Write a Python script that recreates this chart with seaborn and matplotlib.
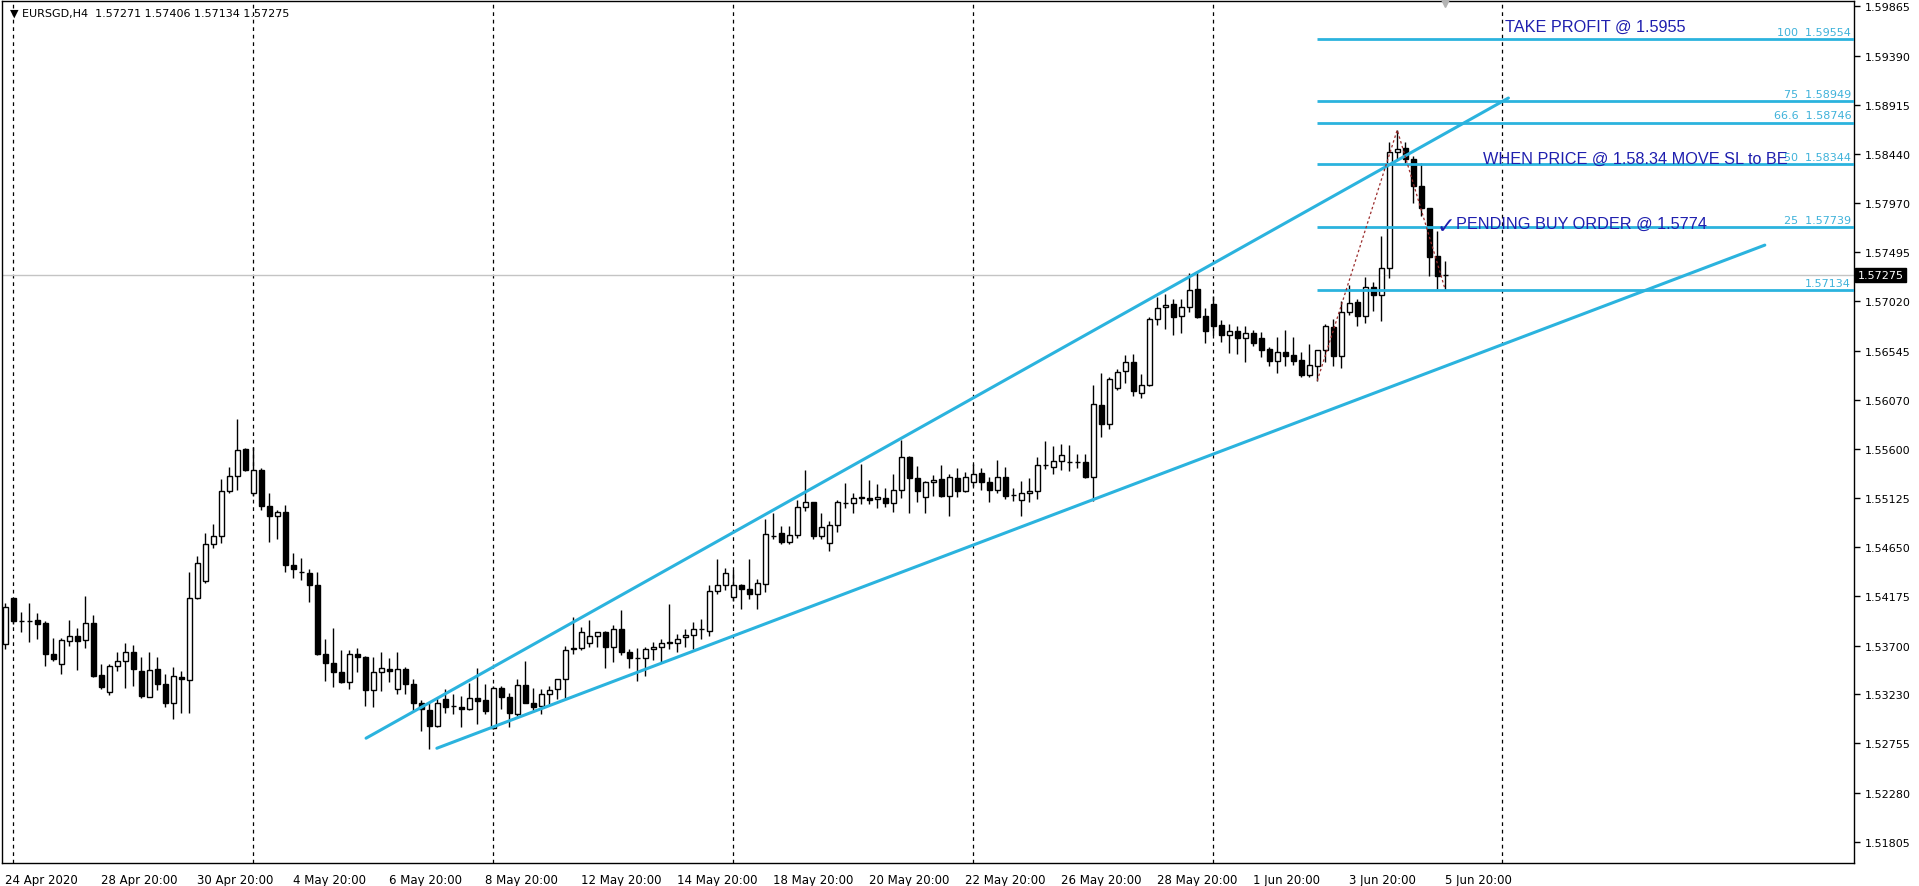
import numpy as np
import pandas as pd
import matplotlib
matplotlib.use("Agg")
import matplotlib.pyplot as plt
import matplotlib.transforms as mtransforms
import seaborn as sns

# EURSGD H4 candles, 24 Apr 2020 20:00 .. 5 Jun 2020 20:00
symbol = "EURSGD,H4"
open_ = [
    1.53719, 1.54156, 1.53938, 1.53938, 1.53944, 1.53915, 1.53622, 1.53526, 1.53748, 1.53796,
    1.53751, 1.53922, 1.53413, 1.53256, 1.53503, 1.53555, 1.53642, 1.53455, 1.53207, 1.53478,
    1.53327, 1.53150, 1.53400, 1.53372, 1.54163, 1.54324, 1.54684, 1.54752, 1.55186, 1.55340,
    1.55594, 1.55176, 1.55392, 1.55048, 1.54954, 1.54993, 1.54475, 1.54411, 1.54404, 1.54288,
    1.53622, 1.53536, 1.53449, 1.53352, 1.53622, 1.53593, 1.53272, 1.53449, 1.53478, 1.53285,
    1.53478, 1.53327, 1.53150, 1.53076, 1.52924, 1.53182, 1.53117, 1.53111, 1.53092, 1.53198,
    1.53172, 1.52908, 1.53294, 1.53207, 1.53043, 1.53317, 1.53150, 1.53117, 1.53236, 1.53278,
    1.53381, 1.53671, 1.53680, 1.53729, 1.53793, 1.53835, 1.53690, 1.53864, 1.53642, 1.53577,
    1.53577, 1.53664, 1.53687, 1.53729, 1.53729, 1.53783, 1.53803, 1.53857, 1.53841, 1.54227,
    1.54282, 1.54173, 1.54282, 1.54250, 1.54201, 1.54292, 1.54758, 1.54781, 1.54703, 1.54768,
    1.55041, 1.55080, 1.54752, 1.54687, 1.54864, 1.55073, 1.55073, 1.55128, 1.55128, 1.55112,
    1.55128, 1.55073, 1.55202, 1.55514, 1.55321, 1.55137, 1.55273, 1.55305, 1.55144, 1.55321,
    1.55192, 1.55273, 1.55363, 1.55279, 1.55202, 1.55330, 1.55154, 1.55105, 1.55176, 1.55192,
    1.55440, 1.55427, 1.55482, 1.55466, 1.55472, 1.55475, 1.55330, 1.56019, 1.55842, 1.56180,
    1.56344, 1.56431, 1.56141, 1.56215, 1.56849, 1.56962, 1.56994, 1.56875, 1.56962, 1.57139,
    1.56875, 1.56994, 1.56792, 1.56698, 1.56730, 1.56663, 1.56711, 1.56663, 1.56560, 1.56447,
    1.56528, 1.56502, 1.56454, 1.56309, 1.56399, 1.56550, 1.56769, 1.56489, 1.56914, 1.57017,
    1.56881, 1.57161, 1.57084, 1.57338, 1.58458, 1.58496, 1.58393, 1.58130, 1.57917, 1.57461,
    1.57271,
]
high = [
    1.54115, 1.54160, 1.54028, 1.54108, 1.54018, 1.53938, 1.53770, 1.53777, 1.53944, 1.53873,
    1.54179, 1.53992, 1.53519, 1.53526, 1.53642, 1.53722, 1.53703, 1.53593, 1.53642, 1.53593,
    1.53429, 1.53491, 1.53455, 1.54407, 1.54559, 1.54790, 1.54877, 1.55305, 1.55427, 1.55884,
    1.55601, 1.55620, 1.55411, 1.55176, 1.55006, 1.55060, 1.54591, 1.54549, 1.54443, 1.54411,
    1.53761, 1.53873, 1.53655, 1.53655, 1.53680, 1.53600, 1.53593, 1.53642, 1.53577, 1.53642,
    1.53497, 1.53381, 1.53175, 1.53156, 1.53198, 1.53278, 1.53230, 1.53214, 1.53336, 1.53487,
    1.53327, 1.53311, 1.53311, 1.53246, 1.53381, 1.53552, 1.53294, 1.53285, 1.53311, 1.53381,
    1.53696, 1.53980, 1.53880, 1.53944, 1.53826, 1.53841, 1.53896, 1.54044, 1.53671, 1.53680,
    1.53687, 1.53735, 1.53761, 1.54099, 1.53815, 1.53864, 1.53928, 1.53954, 1.54285, 1.54533,
    1.54446, 1.54427, 1.54292, 1.54533, 1.54346, 1.54919, 1.54974, 1.54855, 1.54855, 1.55102,
    1.55392, 1.55086, 1.54983, 1.54903, 1.55102, 1.55266, 1.55170, 1.55450, 1.55299, 1.55263,
    1.55215, 1.55353, 1.55684, 1.55524, 1.55434, 1.55289, 1.55343, 1.55440, 1.55353, 1.55417,
    1.55376, 1.55450, 1.55411, 1.55330, 1.55488, 1.55424, 1.55224, 1.55289, 1.55321, 1.55514,
    1.55675, 1.55627, 1.55643, 1.55633, 1.55546, 1.55546, 1.56212, 1.56328, 1.56286, 1.56366,
    1.56502, 1.56511, 1.56318, 1.56865, 1.57059, 1.57091, 1.57042, 1.57042, 1.57293, 1.57316,
    1.56952, 1.57075, 1.56840, 1.56801, 1.56779, 1.56785, 1.56743, 1.56727, 1.56576, 1.56672,
    1.56747, 1.56672, 1.56534, 1.56608, 1.56550, 1.56801, 1.56849, 1.57026, 1.57178, 1.57042,
    1.57252, 1.57203, 1.57654, 1.58554, 1.58674, 1.58554, 1.58426, 1.58355, 1.57917, 1.57702,
    1.57406,
]
low = [
    1.53664, 1.53906, 1.53835, 1.53738, 1.53761, 1.53503, 1.53552, 1.53429, 1.53696, 1.53465,
    1.53680, 1.53400, 1.53278, 1.53227, 1.53455, 1.53294, 1.53311, 1.53198, 1.53204, 1.53269,
    1.53111, 1.52995, 1.53047, 1.53047, 1.54147, 1.54301, 1.54642, 1.54687, 1.55170, 1.55202,
    1.55382, 1.55144, 1.55006, 1.54694, 1.54732, 1.54411, 1.54356, 1.54333, 1.54124, 1.53606,
    1.53359, 1.53304, 1.53343, 1.53285, 1.53445, 1.53117, 1.53111, 1.53262, 1.53349, 1.53230,
    1.53230, 1.53069, 1.52876, 1.52699, 1.52915, 1.53053, 1.53037, 1.52915, 1.53079, 1.52947,
    1.53037, 1.52892, 1.53085, 1.52915, 1.53021, 1.53143, 1.53059, 1.53037, 1.53124, 1.53188,
    1.53182, 1.53616, 1.53658, 1.53690, 1.53690, 1.53484, 1.53542, 1.53606, 1.53487, 1.53359,
    1.53407, 1.53558, 1.53536, 1.53664, 1.53638, 1.53687, 1.53664, 1.53761, 1.53793, 1.54201,
    1.54237, 1.54131, 1.54057, 1.54147, 1.54057, 1.54218, 1.54726, 1.54678, 1.54678, 1.54742,
    1.54999, 1.54726, 1.54732, 1.54613, 1.54797, 1.55031, 1.54983, 1.55064, 1.55064, 1.55025,
    1.55041, 1.54990, 1.55128, 1.54983, 1.55086, 1.54983, 1.55144, 1.55137, 1.54945, 1.55137,
    1.55183, 1.55240, 1.55202, 1.55080, 1.55176, 1.55112, 1.55096, 1.54945, 1.55089, 1.55112,
    1.55401, 1.55359, 1.55395, 1.55385, 1.55417, 1.55321, 1.55096, 1.55707, 1.55787, 1.56167,
    1.56231, 1.56109, 1.56087, 1.56206, 1.56791, 1.56753, 1.56695, 1.56714, 1.56914, 1.56856,
    1.56618, 1.56695, 1.56631, 1.56521, 1.56512, 1.56438, 1.56592, 1.56486, 1.56393, 1.56328,
    1.56399, 1.56406, 1.56293, 1.56286, 1.56254, 1.56438, 1.56399, 1.56373, 1.56888, 1.56779,
    1.56811, 1.56930, 1.56833, 1.57242, 1.58393, 1.58352, 1.57969, 1.57847, 1.57268, 1.57139,
    1.57134,
]
close = [
    1.54076, 1.53938, 1.53935, 1.53940, 1.53912, 1.53622, 1.53574, 1.53751, 1.53796, 1.53748,
    1.53922, 1.53407, 1.53304, 1.53507, 1.53552, 1.53642, 1.53471, 1.53214, 1.53468, 1.53327,
    1.53150, 1.53410, 1.53375, 1.54163, 1.54501, 1.54684, 1.54752, 1.55186, 1.55340, 1.55582,
    1.55389, 1.55392, 1.55048, 1.54954, 1.54993, 1.54481, 1.54436, 1.54408, 1.54288, 1.53616,
    1.53536, 1.53445, 1.53352, 1.53622, 1.53590, 1.53272, 1.53449, 1.53487, 1.53455, 1.53471,
    1.53333, 1.53150, 1.53085, 1.52924, 1.53143, 1.53108, 1.53114, 1.53092, 1.53198, 1.53166,
    1.53069, 1.53294, 1.53204, 1.53053, 1.53317, 1.53150, 1.53111, 1.53236, 1.53272, 1.53381,
    1.53658, 1.53674, 1.53835, 1.53793, 1.53832, 1.53690, 1.53864, 1.53642, 1.53577, 1.53580,
    1.53664, 1.53690, 1.53729, 1.53732, 1.53761, 1.53803, 1.53864, 1.53860, 1.54227, 1.54282,
    1.54404, 1.54282, 1.54250, 1.54201, 1.54301, 1.54774, 1.54761, 1.54703, 1.54768, 1.55041,
    1.55080, 1.54752, 1.54839, 1.54864, 1.55080, 1.55076, 1.55128, 1.55131, 1.55106, 1.55134,
    1.55073, 1.55202, 1.55514, 1.55321, 1.55186, 1.55273, 1.55298, 1.55144, 1.55330, 1.55192,
    1.55330, 1.55359, 1.55279, 1.55202, 1.55330, 1.55144, 1.55151, 1.55176, 1.55192, 1.55440,
    1.55443, 1.55482, 1.55536, 1.55469, 1.55475, 1.55330, 1.56029, 1.55842, 1.56276, 1.56341,
    1.56431, 1.56151, 1.56215, 1.56849, 1.56952, 1.56988, 1.56872, 1.56962, 1.57133, 1.56869,
    1.56737, 1.56785, 1.56695, 1.56730, 1.56663, 1.56711, 1.56618, 1.56553, 1.56447, 1.56528,
    1.56496, 1.56447, 1.56309, 1.56406, 1.56550, 1.56779, 1.56489, 1.56914, 1.57001, 1.56875,
    1.57161, 1.57084, 1.57338, 1.58464, 1.58490, 1.58393, 1.58130, 1.57917, 1.57444, 1.57261,
    1.57275,
]

# bottom axis labels (bar time -> label)
date_ticks = ["2020-04-24 20:00", "2020-04-28 20:00", "2020-04-30 20:00", "2020-05-04 20:00",
              "2020-05-06 20:00", "2020-05-08 20:00", "2020-05-12 20:00", "2020-05-14 20:00",
              "2020-05-18 20:00", "2020-05-20 20:00", "2020-05-22 20:00", "2020-05-26 20:00",
              "2020-05-28 20:00", "2020-06-01 20:00", "2020-06-03 20:00", "2020-06-05 20:00"]
date_labels = ["24 Apr 2020", "28 Apr 20:00", "30 Apr 20:00", "4 May 20:00", "6 May 20:00",
               "8 May 20:00", "12 May 20:00", "14 May 20:00", "18 May 20:00", "20 May 20:00",
               "22 May 20:00", "26 May 20:00", "28 May 20:00", "1 Jun 20:00", "3 Jun 20:00",
               "5 Jun 20:00"]
price_ticks = [1.51805, 1.52280, 1.52755, 1.53230, 1.53700, 1.54175, 1.54650, 1.55125, 1.55600,
               1.56070, 1.56545, 1.57020, 1.57495, 1.57970, 1.58440, 1.58915, 1.59390, 1.59865]

# drawn objects (bar index, price)
upper_x, upper_y = [45.1, 187.9], [1.52806, 1.58982]
lower_x, lower_y = [53.95, 219.95], [1.52709, 1.57563]
zigzag_x, zigzag_y = [164, 174, 180], [1.56254, 1.58674, 1.57134]
fib_levels = [0, 25, 50, 66.6, 75, 100]
future_grid = [187.1]
notes = [
    ("TAKE PROFIT @ 1.5955", 187.5, 1.59677),
    ("WHEN PRICE @ 1.58.34 MOVE SL to BE", 184.7, 1.58403),
    ("PENDING BUY ORDER @ 1.5774", 181.4, 1.57776),
]
check_mark = ("\u2713", 178.9, 1.57745)

CYAN = "#2bb3de"
NAVY = "#1f1fae"

sns.set_style("white")
plt.rcParams["font.family"] = ["DejaVu Sans"]

days = pd.bdate_range("2020-04-24", "2020-06-05")
times = [d + pd.Timedelta(hours=hh) for d in days for hh in range(0, 24, 4)][5:]
x = np.arange(len(close))
o, h, l, c = map(np.array, (open_, high, low, close))

fig = plt.figure(figsize=(19.19, 8.87), dpi=100)
ax = fig.add_axes([2 / 1919, 23 / 887, 1852 / 1919, 862 / 887])
ax.set_xlim(-0.41, 231.1)
ax.set_ylim(1.51602, 1.59918)

# weekly grid (Mondays 00:00)
mondays = [i for i, t in enumerate(times) if t.weekday() == 0 and t.hour == 0]
for gx in mondays + future_grid:
    ax.axvline(gx, color="black", lw=0.9, ls=(0, (3, 3)), zorder=1)

# current price line
ax.axhline(c[-1], color="#c4c4c4", lw=1, zorder=1)

# candles
up = c >= o
ax.vlines(x, l, h, color="black", lw=1, zorder=3)
body_lo = np.minimum(o, c)
body_h = np.abs(c - o)
ax.bar(x[up], body_h[up], bottom=body_lo[up], width=0.6, color="white",
       edgecolor="black", linewidth=1, zorder=4)
ax.bar(x[~up], body_h[~up], bottom=body_lo[~up], width=0.6, color="black",
       edgecolor="black", linewidth=1, zorder=4)

# channel lines
sns.lineplot(x=upper_x, y=upper_y, ax=ax, color=CYAN, lw=2.2, zorder=5)
sns.lineplot(x=lower_x, y=lower_y, ax=ax, color=CYAN, lw=2.2, zorder=5)

# fibo expansion A-B-C
sns.lineplot(x=zigzag_x, y=zigzag_y, ax=ax, color="#9b2d2d", lw=0.9,
             linestyle=(0, (2, 2)), zorder=6)
fib_range = zigzag_y[1] - zigzag_y[0]
x_right = ax.get_xlim()[1]
for lvl in fib_levels:
    val = zigzag_y[2] + fib_range * lvl / 100
    ax.hlines(val, zigzag_x[0], x_right, color=CYAN, lw=2, zorder=5)
    label = f"{val:.5f}" if lvl == 0 else f"{lvl:g}  {val:.5f}"
    ax.text(x_right - 0.35, val + 0.0002, label, ha="right", va="bottom",
            fontsize=8, color="#3fb2da", zorder=6)

# text objects
for txt, tx, ty in notes:
    ax.text(tx, ty, txt, ha="left", va="center", fontsize=11.7, color=NAVY,
            family=["Liberation Sans", "DejaVu Sans"], zorder=7)
ax.text(check_mark[1], check_mark[2], check_mark[0], ha="left", va="center",
        fontsize=16, color=NAVY, family=["DejaVu Sans"], zorder=7)

# chart shift marker
ax.plot(x[-1], ax.get_ylim()[1], marker="v", color="#b4b4b4", ms=8,
        clip_on=False, zorder=8)

# axes
tick_pos = [times.index(pd.Timestamp(t)) for t in date_ticks]
ax.set_xticks(tick_pos)
ax.set_xticklabels(date_labels, ha="left", fontsize=8.5)
ax.yaxis.tick_right()
ax.set_yticks(price_ticks)
ax.set_yticklabels([f"{v:.5f}" for v in price_ticks], fontsize=8)
ax.tick_params(axis="both", direction="out", length=4, width=1, color="black",
               labelcolor="black", pad=3)
ax.tick_params(axis="y", pad=4)
for sp in ax.spines.values():
    sp.set_color("black")
    sp.set_linewidth(1)

trans = mtransforms.blended_transform_factory(ax.transAxes, ax.transData)
ax.text(1.0018, c[-1], f"{c[-1]:.5f}", transform=trans, ha="left", va="center",
        fontsize=8, color="white", clip_on=False,
        bbox=dict(boxstyle="square,pad=0.2", fc="black", ec="black"))

fig.text(10 / 1919, 1 - 14 / 887,
         f"\u25bc {symbol}  {o[-1]:.5f} {h[-1]:.5f} {l[-1]:.5f} {c[-1]:.5f}",
         ha="left", va="center", fontsize=8, color="black")

fig.savefig("out.png", dpi=100, facecolor="white")
